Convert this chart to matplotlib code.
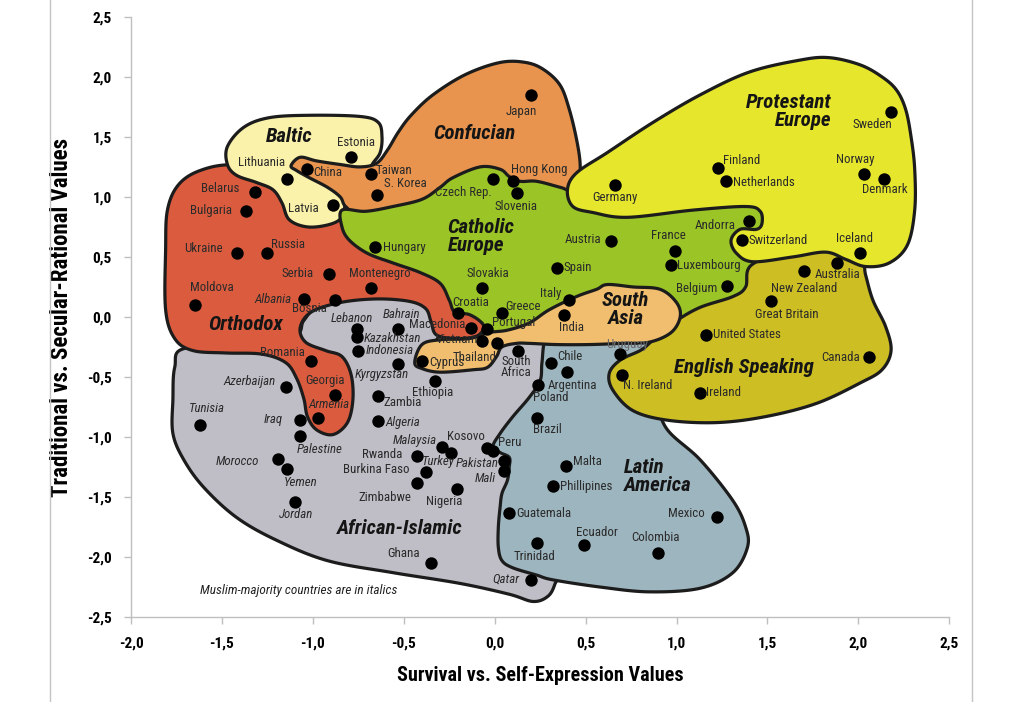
import numpy as np
import matplotlib
matplotlib.use('Agg')
import matplotlib.pyplot as plt
from matplotlib import font_manager
from matplotlib.lines import Line2D

# pick a narrow sans if there is one
names = {f.name for f in font_manager.fontManager.ttflist}
FONT = next((n for n in ['Liberation Sans Narrow', 'DejaVu Sans Condensed',
                         'Roboto Condensed', 'Open Sans', 'DejaVu Sans'] if n in names), 'DejaVu Sans')
plt.rcParams['font.family'] = [FONT, 'DejaVu Sans']

# ---- country scores (survival/self-expression, traditional/secular-rational)
countries = ['Estonia', 'China', 'Lithuania', 'Taiwan', 'S. Korea', 'Belarus', 'Latvia',
             'Bulgaria', 'Hungary', 'Ukraine', 'Russia', 'Serbia', 'Montenegro', 'Moldova',
             'Albania', 'Bosnia', 'Croatia', 'Japan', 'Czech Rep.', 'Hong Kong', 'Slovenia',
             'Germany', 'Finland', 'Netherlands', 'Austria', 'France', 'Luxembourg', 'Spain',
             'Slovakia', 'Italy', 'India', 'Greece', 'Portugal', 'Belgium', 'Andorra',
             'Switzerland', 'Sweden', 'Norway', 'Denmark', 'Iceland', 'Australia',
             'New Zealand', 'Great Britain', 'United States', 'Canada', 'Uruguay',
             'N. Ireland', 'Ireland', 'Lebanon', 'Kazakhstan', 'Bahrain', 'Indonesia',
             'Kyrgyzstan', 'Macedonia', 'Vietnam', 'Thailand', 'Cyprus', 'South\nAfrica',
             'Ethiopia', 'Romania', 'Azerbaijan', 'Georgia', 'Armenia', 'Zambia', 'Algeria',
             'Tunisia', 'Iraq', 'Palestine', 'Morocco', 'Yemen', 'Jordan', 'Malaysia',
             'Turkey', 'Kosovo', 'Peru', 'Pakistan', 'Mali', 'Rwanda', 'Burkina Faso',
             'Zimbabwe', 'Nigeria', 'Ghana', 'Chile', 'Argentina', 'Poland', 'Brazil',
             'Malta', 'Phillipines', 'Guatemala', 'Trinidad', 'Ecuador', 'Colombia',
             'Mexico', 'Qatar']
surv = [-0.79, -1.03, -1.14, -0.68, -0.65, -1.32, -0.89,
        -1.37, -0.66, -1.42, -1.25, -0.91, -0.68, -1.65,
        -1.05, -0.88, -0.20, 0.20, -0.01, 0.10, 0.12,
        0.66, 1.23, 1.27, 0.64, 0.99, 0.97, 0.34,
        -0.07, 0.41, 0.38, 0.04, -0.04, 1.28, 1.40,
        1.36, 2.18, 2.03, 2.14, 2.01, 1.88,
        1.70, 1.52, 1.16, 2.06, 0.69,
        0.70, 1.13, -0.76, -0.76, -0.53, -0.75,
        -0.53, -0.13, -0.07, 0.01, -0.40, 0.13,
        -0.33, -1.01, -1.15, -0.88, -0.97, -0.64, -0.64,
        -1.62, -1.07, -1.07, -1.19, -1.14, -1.10, -0.29,
        -0.24, -0.04, -0.01, 0.05, 0.05, -0.43, -0.38,
        -0.43, -0.21, -0.35, 0.31, 0.40, 0.24, 0.23,
        0.39, 0.32, 0.08, 0.23, 0.49, 0.90,
        1.22, 0.20]
trad = [1.33, 1.23, 1.15, 1.19, 1.02, 1.04, 0.93,
        0.88, 0.58, 0.53, 0.53, 0.36, 0.24, 0.10,
        0.15, 0.14, 0.03, 1.85, 1.15, 1.13, 1.03,
        1.10, 1.24, 1.13, 0.63, 0.55, 0.43, 0.41,
        0.24, 0.14, 0.02, 0.03, -0.10, 0.26, 0.80,
        0.64, 1.71, 1.19, 1.15, 0.53, 0.45,
        0.38, 0.13, -0.15, -0.33, -0.31,
        -0.48, -0.63, -0.10, -0.17, -0.10, -0.28,
        -0.39, -0.09, -0.20, -0.22, -0.37, -0.28,
        -0.53, -0.37, -0.58, -0.65, -0.84, -0.66, -0.87,
        -0.90, -0.86, -0.99, -1.18, -1.27, -1.54, -1.08,
        -1.13, -1.09, -1.12, -1.20, -1.28, -1.16, -1.29,
        -1.38, -1.43, -2.05, -0.38, -0.46, -0.57, -0.84,
        -1.24, -1.41, -1.63, -1.88, -1.90, -1.97,
        -1.67, -2.19]
italic = {'Albania', 'Lebanon', 'Kazakhstan', 'Bahrain', 'Indonesia', 'Kyrgyzstan',
          'Azerbaijan', 'Armenia', 'Algeria', 'Tunisia', 'Iraq', 'Palestine', 'Morocco',
          'Yemen', 'Jordan', 'Malaysia', 'Turkey', 'Pakistan', 'Mali', 'Qatar'}

# label placement: offset from the dot in pixels, alignment
label_pos = {
    'Estonia': (5, 15, 'center'), 'China': (6, -3, 'left'), 'Lithuania': (-26, 16, 'center'),
    'Taiwan': (5, 4, 'left'), 'S. Korea': (7, 11, 'left'), 'Belarus': (-15, 4, 'right'),
    'Latvia': (-14, -3, 'right'), 'Bulgaria': (-14, 1, 'right'), 'Hungary': (8, 0, 'left'),
    'Ukraine': (-14, 5, 'right'), 'Russia': (4, 9, 'left'), 'Serbia': (-16, 0, 'right'),
    'Montenegro': (9, 15, 'center'), 'Moldova': (17, 17, 'center'),
    'Albania': (-12, -1, 'right'), 'Bosnia': (-25, -8, 'center'), 'Croatia': (12, 11, 'center'),
    'Japan': (-10, -17, 'center'), 'Czech Rep.': (-30, -14, 'center'),
    'Hong Kong': (26, 12, 'center'), 'Slovenia': (-1, -13, 'center'),
    'Germany': (0, -13, 'center'), 'Finland': (23, 8, 'center'), 'Netherlands': (7, -1, 'left'),
    'Austria': (-10, 2, 'right'), 'France': (-6, 15, 'center'), 'Luxembourg': (6, 0, 'left'),
    'Spain': (7, 0, 'left'), 'Slovakia': (6, 15, 'center'), 'Italy': (-19, 7, 'center'),
    'India': (8, -13, 'center'), 'Greece': (21, 7, 'center'), 'Portugal': (26, 6, 'center'),
    'Belgium': (-31, -3, 'center'), 'Andorra': (-34, -5, 'center'),
    'Switzerland': (7, 0, 'left'), 'Sweden': (-19, -13, 'center'), 'Norway': (-9, 15, 'center'),
    'Denmark': (1, -11, 'center'), 'Iceland': (-6, 15, 'center'), 'Australia': (1, -12, 'center'),
    'New Zealand': (0, -17, 'center'), 'Great Britain': (16, -13, 'center'),
    'United States': (7, 0, 'left'), 'Canada': (-29, -1, 'center'), 'Uruguay': (7, 10, 'center'),
    'N. Ireland': (26, -11, 'center'), 'Ireland': (6, 0, 'left'), 'Lebanon': (-5, 10, 'center'),
    'Kazakhstan': (7, -1, 'left'), 'Bahrain': (3, 14, 'center'), 'Indonesia': (7, 0, 'left'),
    'Kyrgyzstan': (-17, -11, 'center'), 'Macedonia': (-6, 3, 'right'),
    'Vietnam': (-4, 1, 'right'), 'Thailand': (0, -14, 'right'), 'Cyprus': (7, -1, 'left'),
    'South\nAfrica': (-2, -16, 'center'), 'Ethiopia': (-2, -12, 'center'),
    'Romania': (-29, 9, 'center'), 'Azerbaijan': (-10, 5, 'right'), 'Georgia': (-10, 14, 'center'),
    'Armenia': (11, 13, 'center'), 'Zambia': (24, -6, 'center'), 'Algeria': (7, -1, 'left'),
    'Tunisia': (7, 16, 'center'), 'Iraq': (-27, 1, 'center'), 'Palestine': (19, -14, 'center'),
    'Morocco': (-19, -3, 'right'), 'Yemen': (13, -13, 'center'), 'Jordan': (1, -13, 'center'),
    'Malaysia': (-5, 6, 'right'), 'Turkey': (-13, -9, 'center'), 'Kosovo': (-21, 11, 'center'),
    'Peru': (17, 9, 'center'), 'Pakistan': (-5, -2, 'right'), 'Mali': (-19, -8, 'center'),
    'Rwanda': (-14, 2, 'right'), 'Burkina Faso': (-16, 2, 'right'),
    'Zimbabwe': (-32, -15, 'center'), 'Nigeria': (-12, -13, 'center'), 'Ghana': (-28, 10, 'center'),
    'Chile': (19, 6, 'center'), 'Argentina': (5, -13, 'center'), 'Poland': (12, -12, 'center'),
    'Brazil': (11, -12, 'center'), 'Malta': (7, 4, 'left'), 'Phillipines': (7, 0, 'left'),
    'Guatemala': (7, -1, 'left'), 'Trinidad': (-2, -14, 'center'), 'Ecuador': (13, 13, 'center'),
    'Colombia': (-3, 16, 'center'), 'Mexico': (-30, 4, 'center'), 'Qatar': (-25, 1, 'center'),
}

# ---- cultural zone outlines (closed, smoothed below)
african_x = [-1.76, -1.70, -1.29, -1.09, -1.05, -0.96, -0.74, -0.52, -0.38, -0.32, -0.30,
             -0.31, -0.08, 0.16, 0.38, 0.37, 0.36, 0.33, 0.29, 0.21, 0.08, -0.19, -0.56,
             -0.92, -1.20, -1.42, -1.60, -1.71, -1.77, -1.77]
african_y = [-0.42, -0.26, -0.26, -0.15, -0.03, 0.10, 0.17, 0.16, 0.10, -0.01, -0.13,
             -0.23, -0.24, -0.18, -0.36, -1.11, -2.03, -2.23, -2.33, -2.37, -2.31, -2.22, -2.13,
             -2.03, -1.86, -1.67, -1.42, -1.19, -0.97, -0.69]
latin_x = [0.28, 0.36, 0.58, 0.85, 0.95, 0.80, 0.88, 0.95, 1.13, 1.31, 1.38, 1.39, 1.31,
           1.13, 0.85, 0.58, 0.32, 0.23, 0.10, 0.04, 0.02, 0.02, 0.03, 0.04, 0.07, 0.08,
           0.08, 0.03, -0.01, 0.03, 0.10, 0.19, 0.25, 0.26]
latin_y = [-0.19, -0.16, -0.14, -0.11, -0.16, -0.48, -0.69, -0.94, -1.19, -1.53, -1.75,
           -1.92, -2.13, -2.26, -2.29, -2.25, -2.19, -2.15, -2.09, -2.03, -1.92, -1.75,
           -1.58, -1.47, -1.36, -1.25, -1.17, -1.13, -1.08, -0.97, -0.83, -0.67, -0.53, -0.38]
orthodox_x = [-1.74, -1.62, -1.43, -1.07, -0.88, -0.74, -0.52, -0.30, -0.22, -0.14, -0.08,
              -0.06, -0.10, -0.21, -0.32, -0.35, -0.38, -0.47, -0.65, -0.85, -1.01, -1.07,
              -1.04, -0.93, -0.84, -0.79, -0.78, -0.81, -0.89, -0.98, -1.03, -1.05, -1.09,
              -1.15, -1.28, -1.48, -1.66, -1.76, -1.81, -1.81, -1.80]
orthodox_y = [1.10, 1.22, 1.27, 1.23, 0.88, 0.68, 0.51, 0.34, 0.14, 0.03, -0.03,
              -0.09, -0.16, -0.18, -0.15, -0.04, 0.07, 0.13, 0.15, 0.12, 0.04, -0.09,
              -0.21, -0.28, -0.33, -0.48, -0.69, -0.88, -0.98, -0.94, -0.83, -0.68, -0.51,
              -0.38, -0.31, -0.30, -0.28, -0.18, 0.06, 0.56, 0.89]
baltic_x = [-1.47, -1.42, -1.31, -1.22, -1.17, -1.13, -1.03, -0.91, -0.84, -0.82, -0.79,
            -0.71, -0.67, -0.63, -0.62, -0.64, -0.74, -1.02, -1.24, -1.38, -1.47]
baltic_y = [1.27, 1.18, 1.12, 1.06, 0.95, 0.81, 0.75, 0.77, 0.83, 0.95, 1.06,
            1.18, 1.28, 1.37, 1.50, 1.62, 1.67, 1.68, 1.66, 1.58, 1.42]
confucian_x = [-1.12, -1.07, -0.98, -0.85, -0.74, -0.65, -0.59, -0.53, -0.46, -0.34, -0.16,
               0.03, 0.17, 0.27, 0.36, 0.41, 0.45, 0.47, 0.46, 0.41, 0.25, 0.03, -0.25,
               -0.52, -0.74, -0.82, -0.85, -0.92, -1.02, -1.09]
confucian_y = [1.26, 1.33, 1.30, 1.27, 1.25, 1.28, 1.39, 1.54, 1.68, 1.85, 2.02,
               2.12, 2.12, 2.06, 1.93, 1.73, 1.48, 1.27, 1.10, 0.98, 0.93, 0.98, 0.93,
               0.85, 0.85, 0.92, 1.00, 1.08, 1.16, 1.22]
catholic_x = [-0.84, -0.71, -0.56, -0.40, -0.30, -0.23, -0.08, 0.03, 0.08, 0.14, 0.23, 0.36,
              0.46, 0.85, 1.40, 1.51, 1.52, 1.46, 1.24, 1.02, 0.80, 0.58, 0.36, 0.14, -0.02,
              -0.07, -0.14, -0.22, -0.25, -0.30, -0.41, -0.56, -0.70, -0.80, -0.84]
catholic_y = [0.89, 0.88, 0.92, 0.98, 1.08, 1.16, 1.25, 1.23, 1.17, 1.13, 1.13, 1.08,
              1.04, 0.98, 0.95, 0.77, 0.49, 0.27, 0.06, -0.11, -0.11, -0.03, -0.01, -0.14, -0.16,
              -0.05, 0.02, 0.04, 0.14, 0.28, 0.37, 0.45, 0.53, 0.64, 0.75]
english_x = [1.41, 1.62, 1.84, 2.01, 2.04, 2.08, 2.15, 2.18, 2.13, 2.01, 1.77, 1.49, 1.22,
             0.95, 0.76, 0.65, 0.63, 0.69, 0.80, 0.85, 0.91, 1.00, 1.13, 1.31, 1.38]
english_y = [0.43, 0.56, 0.60, 0.52, 0.35, 0.14, -0.08, -0.28, -0.44, -0.55, -0.72, -0.83,
             -0.88, -0.86, -0.78, -0.61, -0.47, -0.36, -0.28, -0.22, -0.13, -0.03, 0.08,
             0.17, 0.25]
protestant_x = [0.40, 0.45, 0.62, 0.87, 1.13, 1.40, 1.68, 1.84, 2.01, 2.13, 2.21, 2.26, 2.29,
                2.31, 2.31, 2.27, 2.17, 2.04, 1.93, 1.82, 1.64, 1.42, 1.33, 1.30, 1.35, 1.44,
                1.47, 1.46, 1.38, 1.09, 0.73, 0.54, 0.43]
protestant_y = [1.06, 1.20, 1.37, 1.62, 1.85, 2.04, 2.14, 2.16, 2.10, 2.00, 1.89, 1.73, 1.50,
                1.23, 0.89, 0.60, 0.45, 0.42, 0.48, 0.54, 0.50, 0.46, 0.53, 0.64, 0.73, 0.73,
                0.78, 0.88, 0.92, 0.89, 0.83, 0.87, 0.92]
southasia_x = [-0.44, -0.40, -0.30, -0.14, -0.03, 0.07, 0.19, 0.30, 0.45, 0.56, 0.62, 0.76,
               0.91, 1.00, 1.02, 0.97, 0.85, 0.70, 0.52, 0.34, 0.19, 0.12, 0.04, 0.01, -0.04,
               -0.12, -0.30, -0.40]
southasia_y = [-0.38, -0.23, -0.19, -0.18, -0.13, -0.11, -0.05, 0.06, 0.17, 0.23, 0.27, 0.25,
               0.23, 0.12, 0.00, -0.13, -0.21, -0.22, -0.23, -0.23, -0.22, -0.22, -0.25, -0.33,
               -0.42, -0.44, -0.46, -0.43]

zones = [
    (african_x, african_y, '#BFBDC5'),
    (latin_x, latin_y, '#9DB5BE'),
    (orthodox_x, orthodox_y, '#DA5B3E'),
    (baltic_x, baltic_y, '#FAF2AA'),
    (confucian_x, confucian_y, '#E8944F'),
    (catholic_x, catholic_y, '#9BC426'),
    (english_x, english_y, '#CDBE23'),
    (protestant_x, protestant_y, '#E6E62D'),
    (southasia_x, southasia_y, '#F0BE6E'),
]

zone_names = ['Baltic', 'Confucian', 'Catholic\nEurope', 'Protestant\nEurope', 'Orthodox',
              'South\nAsia', 'English Speaking', 'Latin\nAmerica', 'African-Islamic']
zone_lx = [-1.13, -0.11, -0.26, 1.85, -1.37, 0.72, 1.37, 0.71, -0.52]
zone_ly = [1.50, 1.53, 0.67, 1.71, -0.06, 0.06, -0.42, -1.33, -1.76]
zone_ha = ['center', 'center', 'left', 'right', 'center', 'center', 'center', 'left', 'center']


def smooth(xs, ys, n=14):
    # closed Catmull-Rom curve through the outline points
    p = np.column_stack([xs, ys])
    m = len(p)
    t = np.linspace(0, 1, n, endpoint=False)[:, None]
    out = []
    for i in range(m):
        p0, p1, p2, p3 = p[i - 1], p[i], p[(i + 1) % m], p[(i + 2) % m]
        out.append(0.5 * (2 * p1 + (p2 - p0) * t + (2 * p0 - 5 * p1 + 4 * p2 - p3) * t ** 2
                          + (3 * p1 - p0 - 3 * p2 + p3) * t ** 3))
    return np.vstack(out)


fig = plt.figure(figsize=(10.24, 7.02), dpi=100)
ax = fig.add_axes([0.128, 0.121, 0.799, 0.855])

for k, (zx, zy, col) in enumerate(zones):
    pts = smooth(zx, zy)
    ax.fill(pts[:, 0], pts[:, 1], facecolor=col, edgecolor='#1c1c1c', lw=2.3,
            joinstyle='round', zorder=2 + k)

ax.scatter(surv, trad, s=80, c='black', zorder=20, linewidths=0)

for name, x, y in zip(countries, surv, trad):
    dx, dy, ha = label_pos[name]
    col = '#6a6a6a' if name == 'Uruguay' else '#2a2a2a'
    ax.annotate(name, (x, y), xytext=(dx, dy), textcoords='offset pixels',
                ha=ha, va='center', fontsize=9.3, color=col, linespacing=0.8,
                style='italic' if name in italic else 'normal', zorder=21)

for name, x, y, ha in zip(zone_names, zone_lx, zone_ly, zone_ha):
    ax.text(x, y, name, ha=ha, va='center', fontsize=15, fontweight='bold',
            style='italic', color='#151515', linespacing=0.95, zorder=22)

ax.text(-1.08, -2.28, 'Muslim-majority countries are in italics', ha='center', va='center',
        fontsize=9.5, style='italic', color='#222222', zorder=22)

ax.set_xlim(-2.0, 2.5)
ax.set_ylim(-2.5, 2.5)
xt = np.arange(-2.0, 2.51, 0.5)
yt = np.arange(-2.5, 2.51, 0.5)
ax.set_xticks(xt)
ax.set_yticks(yt)
ax.set_xticklabels([f'{v:.1f}'.replace('.', ',') for v in xt], fontsize=11, fontweight='bold')
ax.set_yticklabels([f'{v:.1f}'.replace('.', ',') for v in yt], fontsize=11, fontweight='bold')
ax.tick_params(direction='out', length=5, color='#BFBFBF', width=1)
ax.tick_params(axis='x', pad=9)
ax.tick_params(axis='y', pad=9)
for s in ['top', 'right']:
    ax.spines[s].set_visible(False)
for s in ['left', 'bottom']:
    ax.spines[s].set_color('#BFBFBF')
    ax.spines[s].set_linewidth(1)
ax.set_facecolor('none')

ax.set_xlabel('Survival vs. Self-Expression Values', fontsize=14.5, fontweight='bold', labelpad=11)
ax.set_ylabel('Traditional vs. Secular-Rational Values', fontsize=16.5, fontweight='bold',
              labelpad=10)

# chart frame lines at the sides
fig.add_artist(Line2D([0.049, 0.049], [0, 1], color='#C4C4C4', lw=1))
fig.add_artist(Line2D([0.949, 0.949], [0, 1], color='#C4C4C4', lw=1))

fig.savefig('out.png', dpi=100)
